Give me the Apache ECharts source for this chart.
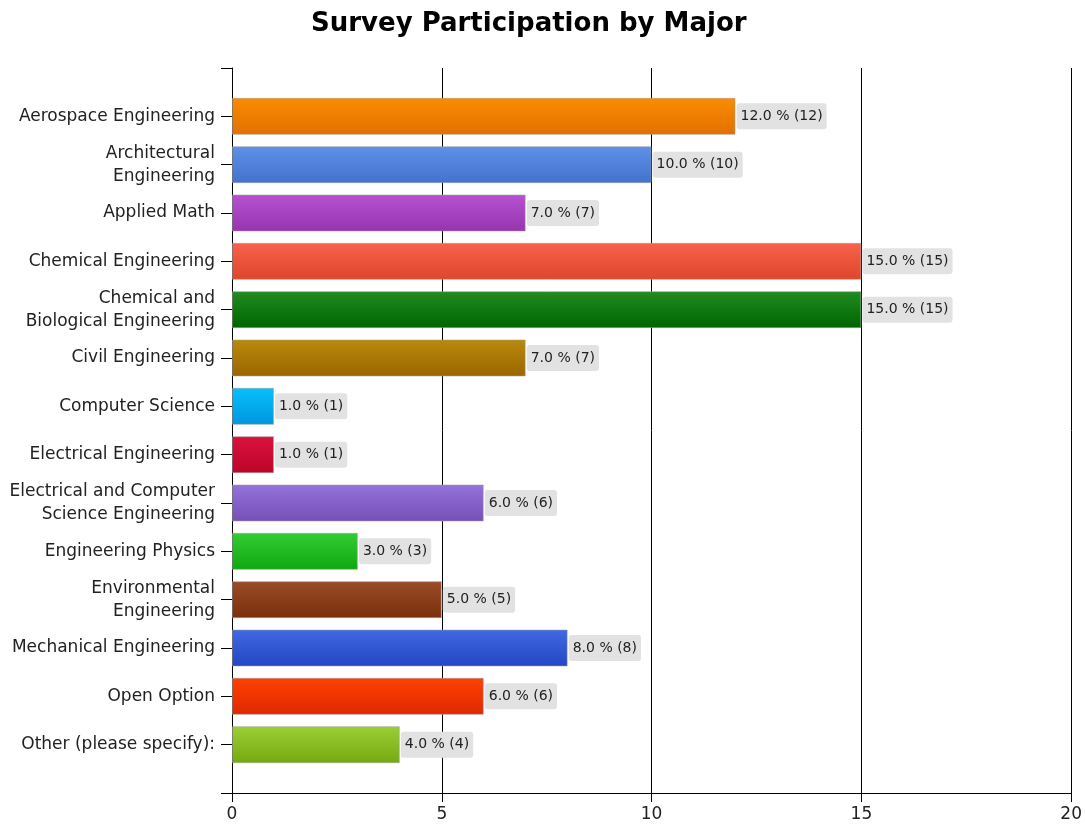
<!DOCTYPE html>
<html>
<head>
<meta charset="utf-8">
<title>Survey Participation by Major</title>
<script src="https://cdn.jsdelivr.net/npm/echarts@6/dist/echarts.min.js"></script>
<style>
  html, body { margin: 0; padding: 0; background: #ffffff; }
  #chart { width: 1085px; height: 827px; }
</style>
</head>
<body>
<div id="chart"></div>
<script>
// Majors, top to bottom
const majors = [
  'Aerospace Engineering',
  'Architectural\nEngineering',
  'Applied Math',
  'Chemical Engineering',
  'Chemical and\nBiological Engineering',
  'Civil Engineering',
  'Computer Science',
  'Electrical Engineering',
  'Electrical and Computer\nScience Engineering',
  'Engineering Physics',
  'Environmental\nEngineering',
  'Mechanical Engineering',
  'Open Option',
  'Other (please specify):'
];

// Number of respondents per major
const counts = [12, 10, 7, 15, 15, 7, 1, 1, 6, 3, 5, 8, 6, 4];

// Share of respondents (percent)
const percents = [12.0, 10.0, 7.0, 15.0, 15.0, 7.0, 1.0, 1.0, 6.0, 3.0, 5.0, 8.0, 6.0, 4.0];

// X axis tick values
const xTicks = [0, 5, 10, 15, 20];

// Bar fills: [top, bottom] of each vertical gradient
const barColors = [
  ['#fa8c00', '#e27000'],
  ['#5e91e8', '#4472cc'],
  ['#b752d0', '#9634ae'],
  ['#f8624a', '#de462c'],
  ['#218c21', '#006400'],
  ['#b98a0c', '#9a6600'],
  ['#08c0fa', '#0096e0'],
  ['#d8123e', '#be0428'],
  ['#9572dc', '#7450b6'],
  ['#34cd34', '#10a610'],
  ['#9a4c26', '#7a2e0c'],
  ['#4169e3', '#2446c2'],
  ['#ff4200', '#e02800'],
  ['#9ccf34', '#76a810']
];

// The category axis carries an empty slot at each end so the axis line
// and its end ticks reach half a step beyond the first and last bars.
const axisCategories = [''].concat(majors, ['']);

const barData = counts.map(function (v, i) {
  return {
    value: v,
    pct: percents[i],
    itemStyle: {
      color: new echarts.graphic.LinearGradient(0, 0, 0, 1, [
        { offset: 0, color: barColors[i][0] },
        { offset: 1, color: barColors[i][1] }
      ])
    }
  };
});
const seriesData = [null].concat(barData, [null]);

const chart = echarts.init(document.getElementById('chart'), null, { renderer: 'canvas' });

chart.setOption({
  backgroundColor: '#ffffff',
  animation: false,
  title: {
    text: 'Survey Participation by Major',
    left: 306,
    top: 6,
    textStyle: {
      fontFamily: 'DejaVu Sans',
      fontWeight: 'bold',
      fontSize: 26,
      color: '#000000'
    }
  },
  grid: {
    left: 232,
    right: 13,
    top: 68,
    bottom: 34,
    containLabel: false
  },
  xAxis: {
    type: 'value',
    min: xTicks[0],
    max: xTicks[xTicks.length - 1],
    interval: 5,
    axisLine: { show: true, lineStyle: { color: '#000000', width: 1 } },
    axisTick: { show: true, length: 9, lineStyle: { color: '#000000' } },
    splitLine: { show: true, lineStyle: { color: '#000000', width: 1 } },
    axisLabel: {
      fontFamily: 'DejaVu Sans',
      fontSize: 17,
      color: '#222222',
      margin: 13
    }
  },
  yAxis: {
    type: 'category',
    data: axisCategories,
    inverse: true,
    boundaryGap: false,
    axisLine: { show: true, lineStyle: { color: '#000000', width: 1 } },
    axisTick: { show: true, length: 11, lineStyle: { color: '#000000' } },
    splitLine: { show: false },
    axisLabel: {
      interval: 0,
      fontFamily: 'DejaVu Sans',
      fontSize: 17,
      lineHeight: 23,
      color: '#222222',
      margin: 17,
      align: 'right'
    }
  },
  series: [{
    type: 'bar',
    data: seriesData,
    barWidth: 37,
    itemStyle: {
      borderColor: 'rgba(160,160,160,0.55)',
      borderWidth: 1
    },
    label: {
      show: true,
      position: 'right',
      distance: 1,
      fontFamily: 'DejaVu Sans',
      fontSize: 14,
      lineHeight: 16,
      color: '#222222',
      backgroundColor: '#e2e2e2',
      borderRadius: 3,
      padding: [5, 4, 5, 4],
      formatter: function (p) {
        return p.data.pct.toFixed(1) + ' % (' + p.data.value + ')';
      }
    }
  }]
});
</script>
</body>
</html>
